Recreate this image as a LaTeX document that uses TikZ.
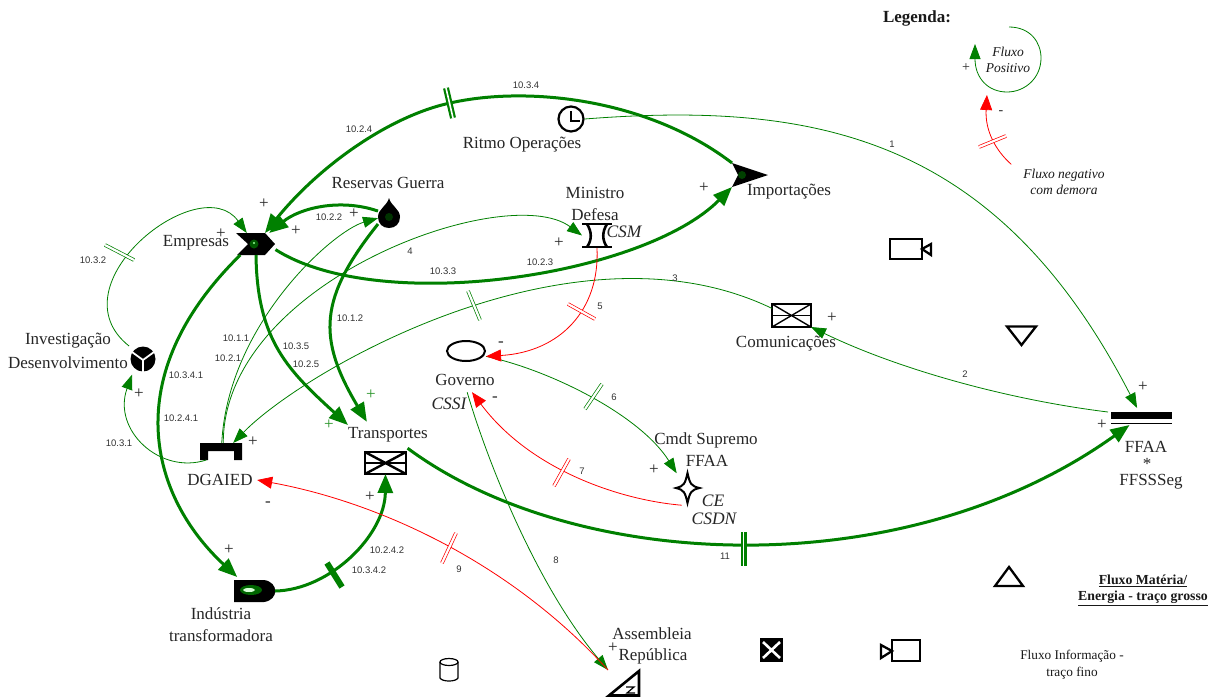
\documentclass[tikz,border=0pt]{standalone}
\usepackage{fontspec}
\setmainfont{Liberation Serif}
\newfontfamily\tinysans{Liberation Sans}
\usetikzlibrary{arrows.meta,shapes.geometric}
\definecolor{fgreen}{RGB}{0,128,0}
\definecolor{fred}{RGB}{255,0,0}
\tikzset{
  lab/.style={inner sep=0pt,font=\fontsize{17}{17}\selectfont,text=black!85},
  ital/.style={inner sep=0pt,font=\fontsize{17.5}{17.5}\selectfont\itshape,text=black!85},
  legit/.style={inner sep=0pt,font=\fontsize{13.5}{13.5}\selectfont\itshape,text=black!90},
  leg/.style={inner sep=0pt,font=\fontsize{13.3}{13.3}\selectfont,text=black!90},
  legb/.style={inner sep=0pt,font=\fontsize{13.8}{13.8}\selectfont\bfseries,text=black!90},
  num/.style={inner sep=0pt,font=\fontsize{9.5}{9.5}\selectfont\tinysans,text=black!80},
  sign/.style={inner sep=0pt,font=\fontsize{17}{17}\selectfont,text=black!85},
  gsign/.style={sign,text=fgreen!85},
  hold/.style={inner sep=0pt,outer sep=0pt,rectangle},
  holdc/.style={inner sep=0pt,outer sep=0pt,circle},
  thick flow/.style={draw=fgreen,line width=3pt,-{Triangle[length=19pt,width=15pt]}},
  thin flow/.style={draw=fgreen,line width=0.8pt,-{Triangle[length=15pt,width=11pt]}},
  neg flow/.style={draw=fred,line width=0.8pt,-{Triangle[length=15pt,width=12pt]}},
  gtick/.style={draw=fgreen,line width=0.7pt,double,double distance=2.2pt},
  rtick/.style={draw=fred,line width=0.7pt,double,double distance=2.2pt},
  ttick/.style={draw=fgreen,line width=2.2pt,double,double distance=1.6pt},
  iconline/.style={draw=black,line width=2.3pt,line join=miter},
}
\begin{document}
\begin{tikzpicture}[x=1pt,y=-1pt]
\useasboundingbox (0,0) rectangle (1217,697);
\fill[white] (0,0) rectangle (1217,697);

% ---- icon holders
\node[hold,minimum width=39pt,minimum height=22pt] (empresas) at (256,244) {};
\node[hold,minimum width=36pt,minimum height=24pt] (importacoes) at (750,175) {};
\node[circle,draw=black,line width=2.2pt,inner sep=0pt,outer sep=1pt,minimum size=25pt] (ritmo) at (571,119) {};
\node[hold,minimum width=22pt,minimum height=30pt] (reservas) at (389,213) {};
\node[hold,minimum width=30pt,minimum height=25pt] (ministro) at (597,235.5) {};
\node[hold,draw=black,line width=1.6pt,minimum width=39pt,minimum height=23pt] (comunicacoes) at (791.5,315.5) {};
\node[ellipse,draw=black,line width=2pt,inner sep=0pt,outer sep=3pt,minimum width=38pt,minimum height=20pt] (governo) at (466,351) {};
\node[holdc,minimum size=36pt] (cmdt) at (687,488) {};
\node[hold,minimum width=64pt,minimum height=17pt] (ffaa) at (1140,416.5) {};
\node[holdc,minimum size=38pt] (investigacao) at (143,359) {};
\node[hold,minimum width=42pt,minimum height=17pt] (dgaied) at (221,451.5) {};
\node[hold,draw=black,line width=2.4pt,minimum width=41pt,minimum height=22pt] (transportes) at (385.5,463) {};
\node[hold,minimum width=41pt,minimum height=28pt] (industria) at (254.5,591) {};
\node[hold,minimum width=32pt,minimum height=27pt] (assembleia) at (624,683.5) {};

% ---- icon drawings
\fill[black] (236,233) -- (265,233) -- (275,244) -- (265,255) -- (237,255) -- (248,244) -- cycle;
\fill[green!35!black] (254,244) circle (4.5);
\fill[green!40!white] (254,243) circle (1.2);
\fill[black] (732,163) -- (768,175) -- (732,187) -- (738,175) -- cycle;
\fill[green!25!black] (742,175) circle (4);
\draw[line width=1.6pt] (571,111) -- (571,121) -- (580,121);
\fill[black] (389,198) .. controls (391,206) and (400,209) .. (400,217) .. controls (400,224) and (395,228) .. (389,228) .. controls (383,228) and (378,224) .. (378,217) .. controls (378,209) and (387,206) .. (389,198) -- cycle;
\fill[green!20!black] (389,217) circle (4);
\draw[line width=2.2pt] (582,224) -- (612,224) (582,247) -- (612,247);
\draw[line width=2.6pt] (587,224) .. controls (592,232) and (592,240) .. (587,247);
\draw[line width=2.6pt] (607,224) .. controls (602,232) and (602,240) .. (607,247);
\draw[line width=1.4pt] (comunicacoes.north west) -- (comunicacoes.south east) (comunicacoes.south west) -- (comunicacoes.north east);
\draw[line width=1pt] (comunicacoes.west) -- (comunicacoes.east);
\draw[line width=2.4pt] (transportes.north west) -- (transportes.south east) (transportes.south west) -- (transportes.north east);
\draw[line width=1.4pt] (transportes.west) -- (transportes.east);
\draw[line width=2pt] (687.5,473) .. controls (690,484) and (691,486) .. (699.5,488) .. controls (691,490) and (690,492) .. (687.5,503) .. controls (685,492) and (684,490) .. (676,488) .. controls (684,486) and (685,484) .. (687.5,473) -- cycle;
\fill[black] (1111,412) rectangle (1172,419);
\fill[black] (1111,422.5) rectangle (1172,424);
\fill[black] (143,359) circle (12.5);
\draw[white,line width=1.8pt] (143,360) -- (143,372) (143,360) -- (132,352) (143,360) -- (154,352);
\fill[black] (200,443) -- (242,443) -- (242,460) -- (234,460) -- (234,451) -- (208,451) -- (208,460) -- (200,460) -- cycle;
\fill[black] (234,580) -- (264,580) .. controls (279,582) and (279,600) .. (264,602) -- (234,602) -- cycle;
\fill[green!40!black] (251,590) ellipse (11 and 5);
\fill[green!15!white] (249,590) ellipse (6 and 2);
\draw[line width=2.6pt,line join=miter] (609,695.5) -- (639,671) -- (639,695.5) -- cycle;
\draw[line width=1.2pt] (626,687) -- (634,687) -- (627,693) -- (635,693);
% icons without connectors
\draw[iconline] (890,239) rectangle (922,259);
\draw[iconline] (922,249) -- (931,244) -- (931,255) -- cycle;
\draw[iconline] (1007,326.5) -- (1036,326.5) -- (1021.5,345) -- cycle;
\draw[iconline] (995,586) -- (1023,586) -- (1009,567) -- cycle;
\fill[black] (760,638) rectangle (783,662);
\draw[white,line width=2.6pt] (763,642) -- (780,658) (763,658) -- (780,642);
\draw[iconline] (892,640) rectangle (920,661);
\draw[iconline] (892,651) -- (881,645) -- (881,658) -- cycle;
\draw[line width=1.2pt] (440,662) -- (440,678) .. controls (442,682) and (456,682) .. (458,678) -- (458,662);
\draw[line width=1.2pt] (449,662) ellipse (9 and 3.5);

% ---- labels
\node[lab,minimum height=20pt] (empresasL) at (196,243) {Empresas};
\node[lab] (reservasL) at (388,183) {Reservas Guerra};
\node[lab] (ritmoL) at (522,145) {Ritmo Operações};
\node[lab] (importacoesL) at (789,192) {Importações};
\node[lab] (ministroL1) at (595,193) {Ministro};
\node[lab] (ministroL2) at (595,215) {Defesa};
\node[ital] (csm) at (624,232) {CSM};
\node[lab] (comunicacoesL) at (786,344) {Comunicações};
\node[lab,minimum height=24pt] (governoL) at (465,380) {Governo};
\node[ital] (cssi) at (449,404) {CSSI};
\node[lab] (cmdtL1) at (706,440) {Cmdt Supremo};
\node[lab] (cmdtL2) at (707,461) {FFAA};
\node[ital] (ce) at (713,501) {CE};
\node[ital] (csdn) at (714,519) {CSDN};
\node[lab] (ffaaL1) at (1146,447) {FFAA};
\node[lab] (ffaaL2) at (1147,464) {*};
\node[lab] (ffaaL3) at (1151,482) {FFSSSeg};
\node[lab] (invL1) at (68,341) {Investigação};
\node[lab] (invL2) at (68,363) {Desenvolvimento};
\node[lab,minimum width=74pt] (dgaiedL) at (220,480) {DGAIED};
\node[lab,minimum height=26pt] (transportesL) at (388,435) {Transportes};
\node[lab] (industriaL1) at (221,614) {Indústria};
\node[lab] (industriaL2) at (221,636) {transformadora};
\node[lab] (assembleiaL1) at (652,634) {Assembleia};
\node[lab] (assembleiaL2) at (653,656) {República};

% ---- thick flows
\draw[thick flow] (importacoes.north west) .. controls (650,100) and (530,85) .. (450,103) .. controls (390,116) and (320,165) .. (empresas.51);
\draw[thick flow] (empresas.-16) .. controls (380,316) and (644,276) .. (importacoes.south west);
\draw[thick flow] (reservas.170) .. controls (340,198) and (300,208) .. (empresas.40);
\draw[thick flow] (reservas.225) .. controls (319,298) and (317,338) .. (transportesL.148);
\draw[thick flow] (empresas.south) .. controls (257,341) and (289,371) .. (transportesL.166);
\draw[thick flow] (empresas.-145) .. controls (116,377) and (151,497) .. (industria.141);
\draw[thick flow] (industria.east) .. controls (330,590) and (385,535) .. (transportes.south);
\draw[thick flow] (transportesL.-34) .. controls (576,573) and (905,586) .. (ffaa.-141);

% ---- thin positive flows
\draw[thin flow] (ritmo.east) .. controls (816,101) and (997,136) .. (ffaa.109);
\draw[thin flow] (ffaa.172) .. controls (1010,400) and (900,370) .. (comunicacoes.south east);
\draw[thin flow] (comunicacoes.160) .. controls (574,213) and (303,371) .. (dgaied.35);
\draw[thin flow] (dgaied.85) .. controls (228,324) and (333,231) .. (reservas.205);
\draw[thin flow] (dgaied.75) .. controls (223,281) and (507,180) .. (ministro.west);
\draw[thin flow] (dgaied.210) .. controls (160,475) and (112,430) .. (investigacao.235);
\draw[thin flow] (investigacao.137) .. controls (52,285) and (200,168) .. (empresas.130);
\draw[thin flow] (governo.-15) .. controls (550,370) and (640,415) .. (cmdt.125);
\draw[thin flow] (governoL.-80) .. controls (490,470) and (540,590) .. (assembleia.north west);

% ---- negative flows
\draw[neg flow] (ministro.south) .. controls (600,310) and (560,352) .. (governo.-15);
\draw[neg flow] (cmdt.-107) .. controls (620,500) and (530,470) .. (governoL.-60);
\draw[neg flow] (assembleia.north west) .. controls (510,562) and (378,502) .. (dgaiedL.east);

% ---- delay marks
\draw[ttick] (446,88) -- (453,118);
\draw[ttick] (743.5,532) -- (743.5,566);
\draw[fgreen,line width=6pt] (327,563) -- (342,587);
\draw[gtick] (105,245) -- (134,260);
\draw[gtick] (468,291) -- (480,320);
\draw[gtick] (585,409) -- (602,384);
\draw[rtick] (568,304) -- (595,319);
\draw[rtick] (554,486) -- (569,459);
\draw[rtick] (442,563) -- (456,533);

% ---- flow numbers
\node[num] (n1) at (892,144) {1};
\node[num] (n2) at (965,374) {2};
\node[num] (n3) at (675,278) {3};
\node[num] (n4) at (410,251) {4};
\node[num] (n5) at (600,306) {5};
\node[num] (n6) at (614,397) {6};
\node[num] (n7) at (582,471) {7};
\node[num] (n8) at (556,560) {8};
\node[num] (n9) at (459,569) {9};
\node[num] (n11) at (725,556) {11};
\node[num] (n111) at (236,338) {10.1.1};
\node[num] (n112) at (350,318) {10.1.2};
\node[num] (n121) at (228,358) {10.2.1};
\node[num] (n122) at (329,217) {10.2.2};
\node[num] (n123) at (540,262) {10.2.3};
\node[num] (n124) at (359,129) {10.2.4};
\node[num] (n1241) at (181,418) {10.2.4.1};
\node[num] (n1242) at (387,550) {10.2.4.2};
\node[num] (n125) at (306,364) {10.2.5};
\node[num] (n131) at (119,443) {10.3.1};
\node[num] (n132) at (93,260) {10.3.2};
\node[num] (n133) at (443,271) {10.3.3};
\node[num] (n134) at (526,85) {10.3.4};
\node[num] (n1341) at (186,375) {10.3.4.1};
\node[num] (n1342) at (369,570) {10.3.4.2};
\node[num] (n135) at (296,346) {10.3.5};

% ---- signs
\node[sign] (s1) at (264,204) {+};
\node[sign] (s2) at (221,234) {+};
\node[sign] (s3) at (296,231) {+};
\node[sign] (s4) at (354,214) {+};
\node[sign] (s5) at (559,243) {+};
\node[sign] (s6) at (704,188) {+};
\node[sign] (s7) at (832,318) {+};
\node[sign] (s8) at (1143,387) {+};
\node[sign] (s9) at (1102,425) {+};
\node[sign] (s10) at (139,394) {+};
\node[sign] (s11) at (253,442) {+};
\node[gsign] (s12) at (371,395) {+};
\node[gsign] (s13) at (329,425) {+};
\node[sign] (s14) at (370,497) {+};
\node[sign] (s15) at (229,550) {+};
\node[sign] (s16) at (654,470) {+};
\node[sign] (s17) at (613,648) {+};
\node[sign] (m1) at (501,344) {-};
\node[sign] (m2) at (495,399) {-};
\node[sign] (m3) at (268,504) {-};

% ---- legend
\node[inner sep=0pt,font=\fontsize{17}{17}\selectfont\bfseries,text=black!90] (legenda) at (917,18) {Legenda:};
\node[holdc,minimum size=2pt] (loopA) at (1008,27) {};
\node[holdc,minimum size=2pt] (loopB) at (975,43) {};
\draw[thin flow] (loopA) .. controls (1030,27) and (1041,42) .. (1041,58) .. controls (1041,78) and (1025,92) .. (1007,92) .. controls (988,92) and (975,78) .. (loopB);
\node[legit] (lf1) at (1008,52) {Fluxo};
\node[legit] (lf2) at (1008,68) {Positivo};
\node[sign,font=\fontsize{14}{14}\selectfont] (ls1) at (966,68) {+};
\node[holdc,minimum size=2pt] (redA) at (1012,165) {};
\node[holdc,minimum size=2pt] (redB) at (987,94) {};
\draw[neg flow] (redA) .. controls (995,150) and (985,130) .. (redB);
\draw[rtick] (979,147) -- (1006,136);
\node[sign,font=\fontsize{14}{14}\selectfont] (ls2) at (1001,113) {-};
\node[legit] (ln1) at (1064,175) {Fluxo negativo};
\node[legit] (ln2) at (1064,190) {com demora};
\node[legb] (lm1) at (1143,581) {\underline{Fluxo Matéria/}};
\node[legb] (lm2) at (1143,598) {\underline{Energia - traço grosso}};
\node[leg] (li1) at (1072,656) {Fluxo Informação -};
\node[leg] (li2) at (1072,673) {traço fino};
\end{tikzpicture}
\end{document}
